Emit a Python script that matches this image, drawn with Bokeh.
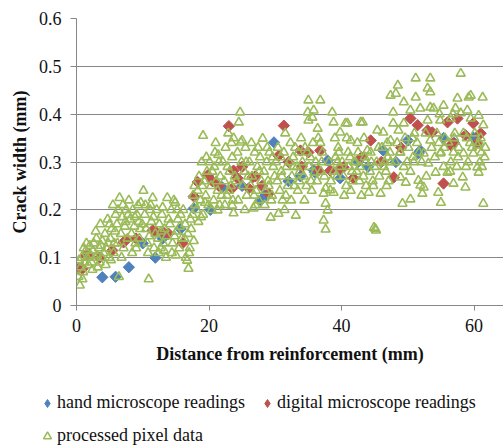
import math
from bokeh.plotting import figure
from bokeh.models import Range1d, FixedTicker, PrintfTickFormatter, Legend, LegendItem
from bokeh.embed import file_html
from bokeh.resources import INLINE

x_ticks = [0, 20, 40, 60]
y_ticks = [0, 0.1, 0.2, 0.3, 0.4, 0.5, 0.6]

hand_pts = [(3.9,0.059),(5.9,0.06),(7.9,0.08),(11.9,0.10),(15.7,0.16),(17.7,0.203),(20.2,0.2),
            (22,0.247),(27.8,0.22),(29.8,0.341),(32,0.26),(33.8,0.27),(35.8,0.283),(36,0.278),
            (37.9,0.303),(39.8,0.266),(42.5,0.3),(44,0.29),(46.3,0.324),(48.2,0.3),(50,0.345),
            (51.6,0.318),(51.9,0.324),(55.4,0.35),(57,0.34),(59.9,0.351),(25,0.25),(28.5,0.23),
            (10,0.13),(13,0.14)]

digital_pts = [(0.3,0.077),(0.9,0.077),(1.4,0.105),(1.8,0.108),(3.5,0.1),(5.4,0.115),(7.1,0.132),
               (7.4,0.136),(9,0.14),(11.5,0.157),(11.9,0.155),(13.1,0.153),(13.9,0.15),(16,0.13),
               (17.7,0.228),(18.3,0.258),(19.8,0.272),(20.5,0.26),(23,0.375),(23.7,0.282),(23.5,0.245),
               (24.3,0.266),(26,0.245),(26.6,0.268),(28,0.25),(29,0.234),(30.5,0.313),(31.3,0.376),
               (33.8,0.324),(35,0.32),(36.5,0.282),(36.8,0.324),(38.3,0.282),(39.8,0.287),(40.3,0.289),
               (41.8,0.266),(43,0.31),(44.4,0.345),(46,0.3),(47.9,0.268),(49,0.33),(50.4,0.391),
               (51.5,0.377),(53,0.366),(53.7,0.362),(55.4,0.255),(56,0.383),(56.5,0.335),(56.9,0.339),
               (57.5,0.391),(58.7,0.356),(59.9,0.381),(60.5,0.34),(61,0.36),(21.5,0.25),(25,0.29),
               (27,0.27),(32,0.3),(34,0.29)]

pixel_pts = [
 (0.3,0.06),(0.5,0.042),(0.6,0.08),(0.8,0.1),(1.0,0.07),(1.2,0.09),(1.4,0.115),(1.6,0.1),(1.8,0.085),(2.0,0.125),(0.9,0.055),(1.5,0.13),(2.1,0.105),(0.4,0.095),(1.1,0.12),
 (2.3,0.09),(2.5,0.115),(2.6,0.13),(2.8,0.1),(3.0,0.14),(3.2,0.08),(3.4,0.12),(3.6,0.17),(3.8,0.1),(3.9,0.135),(2.4,0.075),(3.1,0.105),(3.5,0.09),(2.9,0.155),(3.7,0.125),
 (4.1,0.11),(4.3,0.15),(4.5,0.12),(4.7,0.18),(4.9,0.1),(5.1,0.14),(5.3,0.16),(5.5,0.21),(5.7,0.13),(5.9,0.19),(4.4,0.085),(5.0,0.17),(5.6,0.11),(4.8,0.13),(5.2,0.095),(5.8,0.155),
 (6.1,0.17),(6.3,0.2),(6.5,0.225),(6.7,0.15),(6.9,0.185),(7.1,0.12),(7.3,0.165),(7.5,0.2),(7.7,0.14),(7.9,0.22),(6.2,0.13),(6.8,0.1),(7.4,0.175),(7.8,0.19),(6.4,0.06),(7.0,0.21),
 (8.1,0.18),(8.3,0.15),(8.5,0.2),(8.7,0.165),(8.9,0.13),(9.1,0.19),(9.3,0.21),(9.5,0.14),(9.7,0.215),(9.9,0.17),(8.4,0.11),(9.0,0.12),(9.6,0.16),(8.8,0.185),(9.4,0.175),
 (10.1,0.24),(10.3,0.19),(10.5,0.16),(10.7,0.13),(10.9,0.055),(11.1,0.2),(11.3,0.175),(11.5,0.225),(11.7,0.12),(11.9,0.15),(10.4,0.21),(11.0,0.145),(11.6,0.185),(10.8,0.11),(11.2,0.21),
 (12.1,0.2),(12.3,0.14),(12.5,0.17),(12.7,0.12),(12.9,0.19),(13.1,0.13),(13.3,0.16),(13.5,0.1),(13.7,0.225),(13.9,0.18),(12.4,0.11),(13.0,0.205),(13.6,0.145),(12.8,0.155),(13.2,0.115),
 (14.1,0.17),(14.3,0.2),(14.5,0.13),(14.7,0.22),(14.9,0.215),(15.1,0.155),(15.3,0.18),(15.5,0.12),(15.7,0.19),(15.9,0.14),(14.4,0.11),(15.0,0.105),(15.6,0.165),(14.8,0.145),(15.2,0.2),
 (16.1,0.2),(16.3,0.14),(16.5,0.1),(16.7,0.094),(16.9,0.077),(17.1,0.12),(17.3,0.16),(17.5,0.19),(17.7,0.135),(17.9,0.21),(16.4,0.17),(17.0,0.11),(17.6,0.23),(16.8,0.15),(17.2,0.18),(17.8,0.25),
 (18.1,0.2),(18.3,0.24),(18.5,0.27),(18.7,0.22),(18.9,0.3),(19.1,0.19),(19.3,0.26),(19.5,0.23),(19.7,0.28),(19.9,0.21),(18.4,0.175),(19.0,0.25),(19.6,0.31),(18.8,0.185),(19.4,0.215),(19.1,0.355),
 (20.1,0.3),(20.3,0.25),(20.5,0.28),(20.7,0.22),(20.9,0.32),(21.1,0.26),(21.3,0.24),(21.5,0.3),(21.7,0.27),(21.9,0.23),(20.4,0.2),(21.0,0.34),(21.6,0.21),(20.8,0.29),(21.4,0.315),(21.3,0.199),
 (22.1,0.3),(22.3,0.26),(22.5,0.33),(22.7,0.23),(22.9,0.36),(23.1,0.28),(23.3,0.25),(23.5,0.31),(23.7,0.35),(23.9,0.27),(22.4,0.21),(23.0,0.24),(23.6,0.22),(22.8,0.29),(23.4,0.34),(23.5,0.209),(23.7,0.193),
 (24.1,0.26),(24.3,0.32),(24.5,0.383),(24.7,0.404),(24.9,0.3),(25.1,0.25),(25.3,0.28),(25.5,0.33),(25.7,0.23),(25.9,0.27),(24.4,0.22),(25.0,0.345),(25.6,0.3),(24.8,0.341),(25.4,0.2),
 (26.1,0.3),(26.3,0.25),(26.5,0.27),(26.7,0.203),(26.9,0.32),(27.1,0.24),(27.3,0.29),(27.5,0.22),(27.7,0.31),(27.9,0.26),(26.4,0.34),(27.0,0.21),(27.6,0.28),(26.8,0.23),(27.4,0.33),
 (28.1,0.349),(28.3,0.28),(28.5,0.24),(28.7,0.3),(28.9,0.26),(29.1,0.32),(29.3,0.184),(29.5,0.23),(29.7,0.29),(29.9,0.27),(28.4,0.21),(29.0,0.25),(29.6,0.31),(28.8,0.33),(29.4,0.22),
 (30.1,0.3),(30.3,0.26),(30.5,0.192),(30.7,0.24),(30.9,0.28),(31.1,0.22),(31.3,0.32),(31.5,0.36),(31.7,0.29),(31.9,0.25),(30.4,0.33),(31.0,0.27),(31.6,0.23),(30.8,0.31),(31.4,0.2),
 (32.1,0.3),(32.3,0.34),(32.5,0.27),(32.7,0.31),(32.9,0.25),(33.1,0.188),(33.3,0.29),(33.5,0.32),(33.7,0.28),(33.9,0.35),(32.4,0.22),(33.0,0.33),(33.6,0.26),(32.8,0.29),(33.4,0.24),
 (34.1,0.3),(34.3,0.27),(34.5,0.33),(34.7,0.25),(34.9,0.404),(35.1,0.29),(35.3,0.31),(35.5,0.24),(35.7,0.34),(35.9,0.278),(34.4,0.22),(35.0,0.429),(35.6,0.393),(34.8,0.32),(35.4,0.26),(35.8,0.408),(35.0,0.387),
 (36.1,0.3),(36.3,0.26),(36.5,0.35),(36.8,0.429),(36.9,0.28),(37.1,0.32),(37.3,0.234),(37.6,0.213),(37.9,0.199),(37.3,0.178),(37.6,0.159),(36.4,0.37),(37.0,0.3),(37.6,0.245),(36.8,0.34),(37.4,0.27),
 (38.1,0.3),(38.3,0.241),(38.6,0.404),(38.8,0.383),(38.8,0.236),(39.1,0.31),(39.3,0.27),(39.5,0.33),(39.7,0.29),(39.8,0.362),(38.4,0.26),(39.0,0.35),(39.6,0.32),(38.8,0.28),(39.4,0.3),
 (40.1,0.3),(40.3,0.27),(40.6,0.381),(40.7,0.25),(40.9,0.381),(41.1,0.29),(41.3,0.31),(41.4,0.345),(41.7,0.26),(41.9,0.3),(40.4,0.23),(41.0,0.32),(41.6,0.28),(40.8,0.35),(41.4,0.24),
 (42.1,0.3),(42.3,0.28),(42.5,0.32),(42.7,0.26),(42.9,0.383),(43.2,0.383),(43.3,0.27),(43.5,0.31),(43.7,0.25),(43.9,0.324),(42.4,0.34),(43.0,0.23),(43.6,0.3),(42.8,0.29),(43.4,0.35),
 (44.1,0.236),(44.3,0.28),(44.5,0.3),(44.7,0.26),(44.9,0.163),(45.2,0.157),(45.3,0.3),(45.4,0.366),(45.7,0.27),(45.9,0.234),(44.4,0.32),(45.0,0.29),(45.6,0.33),(44.8,0.25),(45.1,0.16),
 (46.1,0.33),(46.3,0.362),(46.5,0.3),(46.7,0.28),(46.9,0.34),(47.1,0.26),(47.3,0.32),(47.4,0.439),(47.8,0.404),(47.8,0.381),(46.4,0.29),(47.0,0.31),(47.4,0.345),(46.8,0.25),(47.4,0.3),
 (48.1,0.3),(48.2,0.443),(48.5,0.46),(48.6,0.366),(48.9,0.268),(48.9,0.32),(49.4,0.425),(49.4,0.381),(49.7,0.257),(49.9,0.3),(48.4,0.34),(49.2,0.213),(49.6,0.35),(48.8,0.32),(49.4,0.29),
 (50.1,0.33),(50.4,0.222),(50.4,0.408),(50.7,0.35),(50.9,0.3),(51.2,0.475),(51.2,0.435),(51.6,0.261),(51.7,0.32),(51.9,0.412),(50.4,0.28),(51.0,0.36),(51.9,0.251),(50.8,0.31),(51.4,0.34),
 (52.1,0.3),(52.2,0.234),(52.4,0.318),(52.7,0.36),(53.0,0.454),(53.1,0.297),(53.4,0.475),(53.4,0.414),(53.4,0.345),(53.9,0.412),(52.4,0.247),(53.0,0.387),(53.6,0.33),(52.8,0.27),(53.4,0.446),
 (54.1,0.31),(54.2,0.278),(54.6,0.236),(54.7,0.34),(54.9,0.387),(55.0,0.215),(55.4,0.418),(55.5,0.33),(54.9,0.318),(56.0,0.278),(54.4,0.36),(55.0,0.32),(55.6,0.35),(54.8,0.4),(55.4,0.29),
 (56.1,0.341),(56.5,0.391),(56.5,0.3),(56.9,0.255),(56.9,0.32),(57.1,0.36),(57.2,0.412),(57.5,0.433),(57.7,0.33),(58.0,0.485),(56.4,0.28),(57.0,0.35),(57.6,0.31),(56.8,0.4),(57.4,0.29),
 (58.0,0.402),(58.3,0.268),(58.7,0.247),(58.4,0.318),(58.9,0.35),(59.1,0.3),(59.2,0.435),(59.5,0.391),(59.7,0.33),(59.9,0.318),(58.4,0.36),(59.0,0.408),(59.5,0.439),(58.8,0.29),(59.4,0.34),
 (60.1,0.36),(60.5,0.335),(60.5,0.289),(60.7,0.397),(60.9,0.3),(61.1,0.32),(61.3,0.435),(61.4,0.213),(61.4,0.377),(61.7,0.33),(60.7,0.278),(61.0,0.35),(61.6,0.31),(60.8,0.34),(61.2,0.29),
]

series_labels = ["hand microscope readings", "digital microscope readings", "processed pixel data"]

FONT = "'Liberation Serif', 'DejaVu Serif', serif"
FS = "18px"
GRID = "#878787"
BLUE, RED, GREEN = "#4F81BD", "#C0504D", "#9BBB59"

p = figure(width=503, height=370, output_backend="svg", toolbar_location=None,
           x_range=Range1d(0, 64.45), y_range=Range1d(0, 0.6),
           min_border_left=76, min_border_right=0, min_border_top=18, min_border_bottom=65)
p.outline_line_color = None

diamond = dict(marker="square", size=8, angle=math.pi / 4)
tri = dict(marker="triangle", size=9, fill_color=None, line_color=GREEN, line_width=1.6)

p.scatter([a for a, b in hand_pts], [b for a, b in hand_pts], fill_color=BLUE, line_color=BLUE, **diamond)
p.scatter([a for a, b in digital_pts], [b for a, b in digital_pts], fill_color=RED, line_color=RED, **diamond)
p.scatter([a for a, b in pixel_pts], [b for a, b in pixel_pts], **tri)

p.xaxis.ticker = FixedTicker(ticks=x_ticks)
p.yaxis.ticker = FixedTicker(ticks=y_ticks)
p.yaxis.formatter = PrintfTickFormatter(format="%g")
p.xgrid.visible = False
p.ygrid.grid_line_color = GRID
p.ygrid.grid_line_width = 1

for ax in (p.xaxis[0], p.yaxis[0]):
    ax.axis_line_color = GRID
    ax.axis_line_width = 1
    ax.major_tick_line_color = GRID
    ax.minor_tick_line_color = None
    ax.major_tick_in = 0
    ax.major_label_text_font = FONT
    ax.major_label_text_font_size = FS
    ax.major_label_text_color = "#111111"
    ax.axis_label_text_font = FONT
    ax.axis_label_text_font_size = FS
    ax.axis_label_text_font_style = "bold"
    ax.axis_label_text_color = "#111111"

p.xaxis.axis_label = "Distance from reinforcement (mm)"
p.yaxis.axis_label = "Crack width (mm)"
p.xaxis.major_tick_out = 5
p.yaxis.major_tick_out = 6
p.xaxis.major_label_standoff = 8
p.yaxis.major_label_standoff = 9
p.xaxis.axis_label_standoff = 9
p.yaxis.axis_label_standoff = 6

# legend strip below the chart
q = figure(width=503, height=76, output_backend="svg", toolbar_location=None,
           x_range=Range1d(0, 1), y_range=Range1d(0, 1), min_border=0)
q.axis.visible = False
q.grid.visible = False
q.outline_line_color = None
lh = q.scatter([5], [5], marker="diamond", fill_color=BLUE, line_color=BLUE)
ld = q.scatter([5], [5], marker="diamond", fill_color=RED, line_color=RED)
lp = q.scatter([5], [5], **tri)
legend = Legend(items=[LegendItem(label=series_labels[0], renderers=[lh]),
                       LegendItem(label=series_labels[1], renderers=[ld]),
                       LegendItem(label=series_labels[2], renderers=[lp])],
                ncols=2, orientation="horizontal", location=(37, 0),
                label_text_font=FONT, label_text_font_size=FS, label_text_color="#111111",
                glyph_width=20, glyph_height=20, label_height=20, label_standoff=0,
                spacing=12, padding=0, margin=0, border_line_color=None,
                background_fill_alpha=0)
q.add_layout(legend)

open("out.html", "w").write(file_html([p, q], INLINE))
